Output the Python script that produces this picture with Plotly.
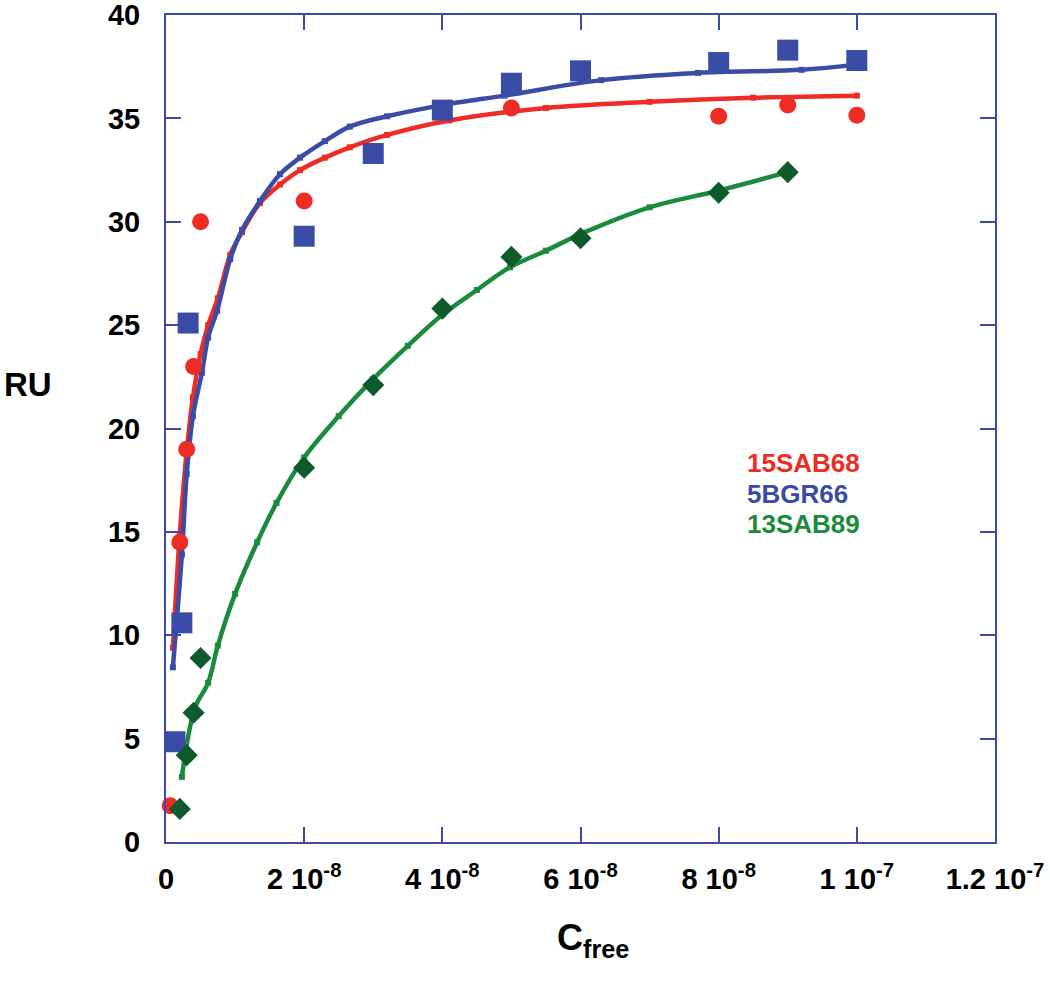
import plotly.graph_objects as go

# Measured data (x in units of 1e-8 M, converted below)
red_x = [0.06, 0.2, 0.3, 0.4, 0.5, 2.0, 4.0, 5.0, 8.0, 9.0, 10.0]
red_y = [1.75, 14.5, 19.0, 23.0, 30.0, 31.0, 35.3, 35.5, 35.1, 35.65, 35.15]

blue_x = [0.13, 0.23, 0.32, 2.0, 3.0, 4.0, 5.0, 6.0, 8.0, 9.0, 10.0]
blue_y = [4.85, 10.6, 25.1, 29.3, 33.3, 35.4, 36.7, 37.3, 37.7, 38.3, 37.8]

green_x = [0.2, 0.3, 0.4, 0.5, 2.0, 3.0, 4.0, 5.0, 6.0, 8.0, 9.0]
green_y = [1.6, 4.2, 6.25, 8.9, 18.1, 22.1, 25.8, 28.3, 29.2, 31.4, 32.4]

# Fit curves
red_fit_x = [0.1, 0.2, 0.3, 0.39, 0.5, 0.61, 0.75, 0.93, 1.1, 1.36, 1.65, 1.94, 2.3, 2.66, 3.2, 4.1, 5.5, 7.0, 8.5, 10.0]
red_fit_y = [9.4, 14.9, 18.9, 21.5, 23.6, 25.0, 26.3, 28.4, 29.5, 30.9, 31.8, 32.5, 33.1, 33.6, 34.2, 34.9, 35.5, 35.8, 36.0, 36.1]

blue_fit_x = [0.1, 0.23, 0.3, 0.39, 0.52, 0.61, 0.74, 0.93, 1.1, 1.36, 1.65, 1.94, 2.3, 2.66, 3.2, 4.1, 4.9, 6.3, 7.7, 9.2, 10.0]
blue_fit_y = [8.45, 13.9, 17.8, 20.6, 22.7, 24.4, 25.7, 28.2, 29.6, 31.0, 32.3, 33.1, 33.9, 34.6, 35.1, 35.7, 36.1, 36.85, 37.2, 37.35, 37.6]

green_fit_x = [0.23, 0.42, 0.61, 0.75, 1.0, 1.32, 1.6, 2.0, 2.5, 3.0, 3.5, 4.0, 4.5, 4.98, 5.5, 6.03, 7.0, 7.99, 9.0]
green_fit_y = [3.15, 6.5, 7.7, 9.5, 12.0, 14.5, 16.4, 18.6, 20.6, 22.4, 24.0, 25.5, 26.7, 27.8, 28.6, 29.45, 30.7, 31.5, 32.4]

tick_vals = [0, 2, 4, 6, 8, 10, 12]
tick_text = ["0", "2 10<sup>-8</sup>", "4 10<sup>-8</sup>", "6 10<sup>-8</sup>",
             "8 10<sup>-8</sup>", "1 10<sup>-7</sup>", "1.2 10<sup>-7</sup>"]
y_ticks = [0, 5, 10, 15, 20, 25, 30, 35, 40]

series_names = ["15SAB68", "5BGR66", "13SAB89"]

RED = "#ee2b25"
BLUE = "#3a4ca6"
GREEN = "#1a8a3c"
DGREEN = "#0f5a2a"
AXIS = "#3d4aa8"

sc = 1e-8
def s(v):
    return [a * sc for a in v]

fig = go.Figure()

for fx, fy, col in [(red_fit_x, red_fit_y, RED), (blue_fit_x, blue_fit_y, BLUE),
                    (green_fit_x, green_fit_y, GREEN)]:
    fig.add_trace(go.Scatter(x=s(fx), y=fy, mode="lines+markers",
                             line=dict(color=col, width=4.5, shape="spline"),
                             marker=dict(symbol="square", size=6, color=col),
                             showlegend=False, cliponaxis=False))

fig.add_trace(go.Scatter(x=s(red_x), y=red_y, mode="markers",
                         marker=dict(symbol="circle", size=17, color=RED),
                         name=series_names[0], showlegend=False, cliponaxis=False))
fig.add_trace(go.Scatter(x=s(blue_x), y=blue_y, mode="markers",
                         marker=dict(symbol="square", size=21, color=BLUE),
                         name=series_names[1], showlegend=False, cliponaxis=False))
fig.add_trace(go.Scatter(x=s(green_x), y=green_y, mode="markers",
                         marker=dict(symbol="diamond", size=17, color=DGREEN),
                         name=series_names[2], showlegend=False, cliponaxis=False))

font_main = "Liberation Sans, Arial, sans-serif"

# plot area: x 166..995, y 15..842 (px)
def px_x(p):
    return (p - 166) / (995 - 166)

def px_y(p):
    return (842 - p) / (842 - 15)

legend_colors = [RED, BLUE, GREEN]
legend_y = [463, 494, 524]
for nm, col, ly in zip(series_names, legend_colors, legend_y):
    fig.add_annotation(x=px_x(745), y=px_y(ly), xref="paper", yref="paper",
                       text="<b>%s</b>" % nm, showarrow=False, xanchor="left",
                       yanchor="middle", font=dict(family=font_main, size=26, color=col))

fig.add_annotation(x=px_x(2), y=px_y(384), xref="paper", yref="paper", text="<b>RU</b>",
                   showarrow=False, xanchor="left", yanchor="middle",
                   font=dict(family=font_main, size=33, color="black"))
fig.add_annotation(x=px_x(593), y=px_y(940), xref="paper", yref="paper",
                   text="<b>C<sub>free</sub></b>", showarrow=False,
                   xanchor="center", yanchor="middle",
                   font=dict(family=font_main, size=36, color="black"))

axis_common = dict(showline=True, linecolor=AXIS, linewidth=2, mirror="ticks",
                   ticks="inside", ticklen=15, tickwidth=2, tickcolor=AXIS,
                   showgrid=False, zeroline=False, automargin=False,
                   ticklabeloverflow="allow",
                   tickfont=dict(family=font_main, size=29, color="black"))

fig.update_xaxes(range=[0, 1.2e-7], tickvals=s(tick_vals),
                 ticktext=["<b>%s</b>" % t for t in tick_text],
                 ticklabelstandoff=10, **axis_common)
fig.update_yaxes(range=[0, 40], tickvals=y_ticks, ticktext=["<b>%d</b>" % v for v in y_ticks],
                 ticklabelstandoff=18, **axis_common)

fig.update_layout(width=1050, height=981, plot_bgcolor="white", paper_bgcolor="white",
                  margin=dict(l=166, r=55, t=15, b=139), showlegend=False)

fig.write_html("out.html", config={"displayModeBar": False},
               post_script="document.body.style.margin='0';document.body.style.overflow='hidden';")
